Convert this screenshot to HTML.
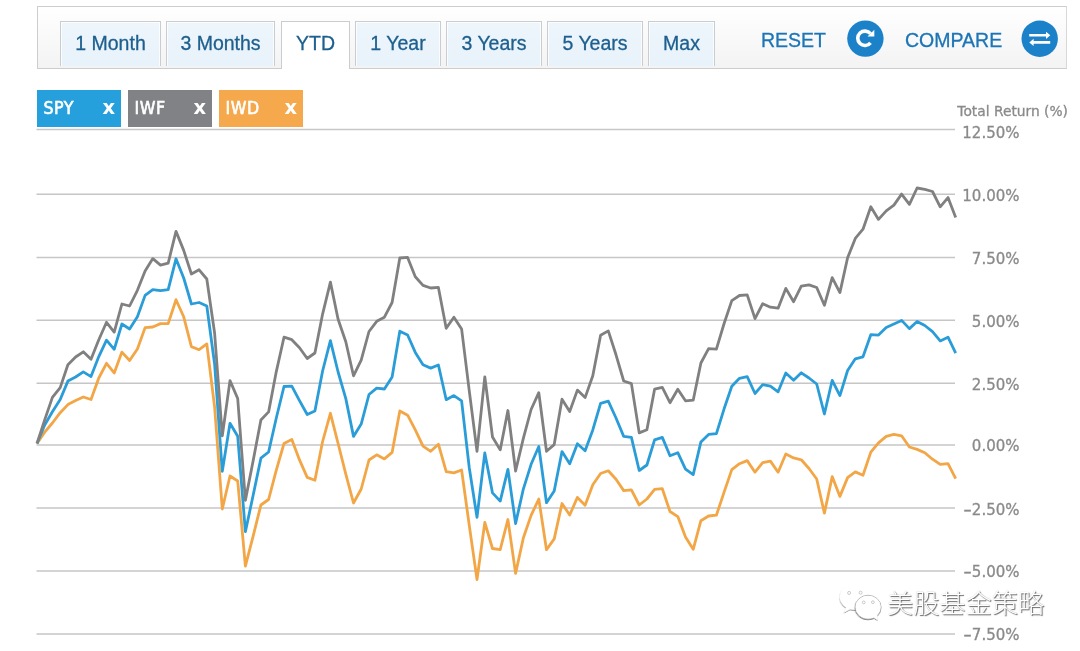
<!DOCTYPE html>
<html><head><meta charset="utf-8"><title>Total Return Chart</title>
<style>
html,body{margin:0;padding:0;background:#fff;}
body{width:1080px;height:651px;position:relative;overflow:hidden;font-family:"Liberation Sans",sans-serif;}
.bar{position:absolute;left:37px;top:6px;width:1028px;height:61px;border:1px solid #cdcdcd;border-right-color:#d8d8d8;box-sizing:content-box;
 background:linear-gradient(#ffffff,#f3f3f4);box-shadow:inset 0 1px 0 #fff;}
.tab{position:absolute;top:21px;height:45px;box-sizing:border-box;border:1px solid #c9cdd0;border-bottom:none;
 background:linear-gradient(#eef6fc,#e8f2fa);box-shadow:inset 1px 1px 0 rgba(255,255,255,.75),inset -1px 0 0 rgba(255,255,255,.75);color:#1d5f8e;font-size:19.5px;line-height:43px;text-align:center;white-space:nowrap;-webkit-text-stroke:0.3px #1d5f8e;}
.tab.on{background:#fff;height:48px;box-shadow:none;}
.act{position:absolute;top:28px;font-size:19.5px;line-height:24px;color:#1c75b5;white-space:nowrap;-webkit-text-stroke:0.3px #1c75b5;}
.tag{position:absolute;top:90px;height:37px;width:84px;color:#fff;font-family:"DejaVu Sans Condensed","DejaVu Sans",sans-serif;font-size:17.6px;line-height:37px;}
.tag span{position:absolute;left:6.5px;top:0;letter-spacing:0.55px;-webkit-text-stroke:0.6px #fff}
.tag b{position:absolute;left:65.5px;top:-1px;font-size:19.5px;font-weight:bold;font-family:"DejaVu Sans",sans-serif;}
svg.chart{position:absolute;left:0;top:0;}
svg.chart line{stroke:#c6c6c6;stroke-width:1.5;}
svg.chart polyline{fill:none;stroke-width:2.8;stroke-linejoin:round;stroke-linecap:butt;}
svg.chart text{font-family:"DejaVu Sans",sans-serif;font-size:15px;fill:#8a8a8a;stroke:#8a8a8a;stroke-width:0.3px;text-anchor:end;}
.wm{position:absolute;left:887px;top:586px;font-family:"Liberation Sans","Noto Sans CJK SC",sans-serif;font-size:26.2px;font-weight:300;line-height:36px;color:#fff;
 text-shadow:1px 1px 1px rgba(0,0,0,.6),0 0 1px rgba(0,0,0,.25);white-space:nowrap;}
</style></head><body>
<div class="bar"></div>
<div class="tab" style="left:60px;width:101px">1 Month</div>
<div class="tab" style="left:166px;width:109px">3 Months</div>
<div class="tab on" style="left:281px;width:69px">YTD</div>
<div class="tab" style="left:355px;width:86px">1 Year</div>
<div class="tab" style="left:446px;width:96px">3 Years</div>
<div class="tab" style="left:547px;width:96px">5 Years</div>
<div class="tab" style="left:648px;width:67px">Max</div>
<div class="act" style="left:761px">RESET</div>
<div class="act" style="left:905px">COMPARE</div>
<div class="tag" style="left:37px;background:#25a0dc"><span>SPY</span><b>x</b></div>
<div class="tag" style="left:128px;background:#808285"><span>IWF</span><b>x</b></div>
<div class="tag" style="left:219px;background:#f5a94c"><span>IWD</span><b>x</b></div>
<svg class="chart" width="1080" height="651" viewBox="0 0 1080 651">
<g><circle cx="865.4" cy="38.6" r="18.2" fill="#1b82c9"/><circle cx="1039.7" cy="38.7" r="18.2" fill="#1b82c9"/>
<path d="M870.5 33.7A7.2 7.2 0 1 0 870.5 42.9" fill="none" stroke="#fff" stroke-width="3.6"/>
<path d="M874.3 29.7V36.5H867.5Z" fill="#fff"/>
<path d="M1029.2 34.1H1046V31.7L1050.3 35.35L1046 39V36.6H1029.2Z M1050.2 41.1H1033.6V38.8L1029.3 42.4L1033.6 46.1V43.7H1050.2Z" fill="#fff"/></g>
<g><line x1="36.5" x2="955" y1="129.6" y2="129.6"/><line x1="36.5" x2="955" y1="194.3" y2="194.3"/><line x1="36.5" x2="955" y1="257.4" y2="257.4"/><line x1="36.5" x2="955" y1="320.2" y2="320.2"/><line x1="36.5" x2="955" y1="383.2" y2="383.2"/><line x1="36.5" x2="955" y1="445.0" y2="445.0"/><line x1="36.5" x2="955" y1="508.0" y2="508.0"/><line x1="36.5" x2="955" y1="571.0" y2="571.0"/><line x1="36.5" x2="955" y1="634.1" y2="634.1"/></g>
<text x="1068" y="115.7" style="font-size:13.8px">Total Return (%)</text>
<g><text x="1019.5" y="137.8">12.50%</text><text x="1019.5" y="200.7">10.00%</text><text x="1019.5" y="263.7">7.50%</text><text x="1019.5" y="326.6">5.00%</text><text x="1019.5" y="389.6">2.50%</text><text x="1019.5" y="451.4">0.00%</text><text x="1019.5" y="514.5"><tspan textLength="8.6" lengthAdjust="spacingAndGlyphs">-</tspan>2.50%</text><text x="1019.5" y="577.4"><tspan textLength="8.6" lengthAdjust="spacingAndGlyphs">-</tspan>5.00%</text><text x="1019.5" y="640.3"><tspan textLength="8.6" lengthAdjust="spacingAndGlyphs">-</tspan>7.50%</text></g>
<polyline stroke="#f2a646" points="37.0,443.5 44.7,432.1 52.4,423.0 60.2,412.7 67.9,404.6 75.6,400.5 83.3,397.0 91.0,399.5 98.8,378.0 106.5,363.3 114.2,372.9 121.9,352.1 129.6,360.5 137.4,349.0 145.1,327.6 152.8,327.0 160.5,323.6 168.2,323.6 176.0,299.7 183.7,316.8 191.4,346.6 199.1,349.7 206.8,343.9 214.6,407.0 222.3,509.0 230.0,476.0 237.7,481.0 245.4,566.2 253.2,535.8 260.9,505.0 268.6,499.5 276.3,470.2 284.0,443.5 291.8,439.5 299.5,459.9 307.2,477.4 314.9,480.2 322.6,441.5 330.4,413.3 338.1,443.5 345.8,474.2 353.5,503.0 361.2,489.0 369.0,460.0 376.7,454.8 384.4,458.9 392.1,452.4 399.8,411.0 407.6,415.2 415.3,429.9 423.0,446.2 430.7,451.3 438.4,444.2 446.2,471.6 453.9,472.9 461.6,470.0 469.3,525.6 477.0,579.5 484.8,522.5 492.5,548.5 500.2,549.7 507.9,519.5 515.6,573.4 523.4,537.8 531.1,515.4 538.8,499.0 546.5,549.7 554.2,538.9 562.0,503.5 569.7,515.0 577.4,497.4 585.1,505.2 592.8,484.7 600.6,473.5 608.3,470.8 616.0,479.2 623.7,490.6 631.4,489.8 639.2,505.0 646.9,499.0 654.6,489.4 662.3,488.7 670.0,511.5 677.8,516.6 685.5,537.0 693.2,549.3 700.9,520.7 708.6,516.0 716.4,515.2 724.1,492.1 731.8,469.6 739.5,463.7 747.2,460.6 755.0,472.2 762.7,462.7 770.4,461.1 778.1,472.2 785.8,454.0 793.6,457.9 801.3,459.8 809.0,468.5 816.7,479.0 824.4,513.2 832.2,476.6 839.9,496.4 847.6,477.6 855.3,471.9 863.0,475.2 870.8,452.1 878.5,442.9 886.2,436.4 893.9,434.3 901.6,435.8 909.4,447.0 917.1,449.4 924.8,452.7 932.5,459.2 940.2,464.4 948.0,463.7 955.7,478.7"/>
<polyline stroke="#2a9dd8" points="37.0,443.5 44.7,425.0 52.4,411.7 60.2,399.5 67.9,381.1 75.6,377.0 83.3,371.9 91.0,376.6 98.8,356.6 106.5,340.2 114.2,349.3 121.9,324.0 129.6,329.0 137.4,316.8 145.1,295.4 152.8,289.7 160.5,290.7 168.2,289.7 176.0,258.8 183.7,278.0 191.4,304.0 199.1,302.5 206.8,306.0 214.6,364.0 222.3,471.3 230.0,423.3 237.7,436.3 245.4,531.7 253.2,495.0 260.9,458.2 268.6,452.0 276.3,418.0 284.0,386.5 291.8,386.1 299.5,400.6 307.2,414.5 314.9,410.9 322.6,371.0 330.4,340.7 338.1,372.0 345.8,398.6 353.5,436.4 361.2,424.1 369.0,394.5 376.7,388.1 384.4,389.0 392.1,377.0 399.8,331.2 407.6,335.0 415.3,352.4 423.0,364.8 430.7,368.1 438.4,365.0 446.2,399.7 453.9,395.6 461.6,400.9 469.3,468.0 477.0,517.4 484.8,453.0 492.5,492.9 500.2,501.1 507.9,469.3 515.6,523.5 523.4,488.8 531.1,464.3 538.8,446.5 546.5,502.7 554.2,490.9 562.0,451.6 569.7,463.8 577.4,443.8 585.1,450.7 592.8,429.9 600.6,403.3 608.3,401.2 616.0,418.0 623.7,436.4 631.4,437.4 639.2,470.5 646.9,465.0 654.6,439.9 662.3,437.4 670.0,455.8 677.8,452.7 685.5,469.1 693.2,474.6 700.9,441.9 708.6,434.4 716.4,433.7 724.1,408.8 731.8,386.3 739.5,378.3 747.2,376.7 755.0,393.5 762.7,384.7 770.4,386.1 778.1,391.8 785.8,373.0 793.6,380.2 801.3,372.8 809.0,378.0 816.7,384.0 824.4,414.0 832.2,380.3 839.9,395.6 847.6,370.5 855.3,358.8 863.0,356.8 870.8,334.7 878.5,335.1 886.2,327.6 893.9,324.1 901.6,320.4 909.4,328.6 917.1,321.5 924.8,325.5 932.5,331.7 940.2,340.9 948.0,337.2 955.7,353.1"/>
<polyline stroke="#808080" points="37.0,443.5 44.7,419.9 52.4,397.4 60.2,387.6 67.9,364.7 75.6,357.0 83.3,351.8 91.0,359.3 98.8,339.7 106.5,322.3 114.2,332.1 121.9,304.0 129.6,306.0 137.4,290.3 145.1,270.9 152.8,258.6 160.5,265.1 168.2,263.1 176.0,231.4 183.7,250.4 191.4,274.0 199.1,269.8 206.8,279.0 214.6,333.0 222.3,435.8 230.0,380.6 237.7,398.5 245.4,500.3 253.2,460.5 260.9,420.0 268.6,411.9 276.3,371.6 284.0,337.2 291.8,339.7 299.5,347.8 307.2,358.5 314.9,353.0 322.6,314.1 330.4,282.1 338.1,319.2 345.8,341.7 353.5,375.8 361.2,360.1 369.0,331.5 376.7,321.3 384.4,317.2 392.1,302.5 399.8,258.0 407.6,257.4 415.3,276.8 423.0,285.4 430.7,288.0 438.4,287.4 446.2,328.3 453.9,317.2 461.6,328.9 469.3,391.1 477.0,451.3 484.8,376.8 492.5,437.0 500.2,449.9 507.9,410.5 515.6,471.0 523.4,438.1 531.1,409.5 538.8,392.7 546.5,451.3 554.2,444.6 562.0,399.2 569.7,411.5 577.4,390.1 585.1,397.6 592.8,375.8 600.6,335.2 608.3,330.9 616.0,354.8 623.7,381.0 631.4,383.6 639.2,432.9 646.9,429.7 654.6,389.2 662.3,387.4 670.0,402.7 677.8,389.2 685.5,400.8 693.2,400.2 700.9,363.0 708.6,348.7 716.4,349.1 724.1,323.5 731.8,300.6 739.5,295.5 747.2,294.9 755.0,318.6 762.7,303.7 770.4,307.2 778.1,308.2 785.8,288.4 793.6,301.7 801.3,286.2 809.0,284.9 816.7,287.5 824.4,305.3 832.2,277.7 839.9,292.6 847.6,257.8 855.3,238.4 863.0,229.2 870.8,206.8 878.5,219.4 886.2,210.9 893.9,205.1 901.6,194.1 909.4,204.3 917.1,188.0 924.8,189.4 932.5,191.5 940.2,206.8 948.0,197.6 955.7,217.4"/>
<defs><filter id="ds" x="-20%" y="-20%" width="140%" height="150%"><feDropShadow dx="-0.2" dy="1" stdDeviation="0.55" flood-color="#000" flood-opacity="0.5"/></filter></defs>
<g fill="#fff" filter="url(#ds)"><ellipse cx="854.3" cy="597" rx="14.5" ry="12.7"/><path d="M846.500 606.500L844 612.600L851.500 608.600Z"/></g>
<g fill="#fff" filter="url(#ds)"><ellipse cx="868.1" cy="607.1" rx="12.9" ry="11.800" stroke="#8f8f8f" stroke-width=".7"/><path d="M872.500 616.800L877.600 619.900L877 613.500Z"/></g>
<ellipse cx="868.1" cy="607.1" rx="12.500" ry="11.400" fill="#fff"/>
<g fill="#fff" stroke="#b5b5b5" stroke-width=".7"><circle cx="849.1" cy="592.900" r="1.500"/><circle cx="860.6" cy="592.700" r="1.500"/><circle cx="863.7" cy="602.400" r="1.400"/><circle cx="872.9" cy="602.200" r="1.400"/></g>
</svg>
<div class="wm">美股基金策略</div>
</body></html>
